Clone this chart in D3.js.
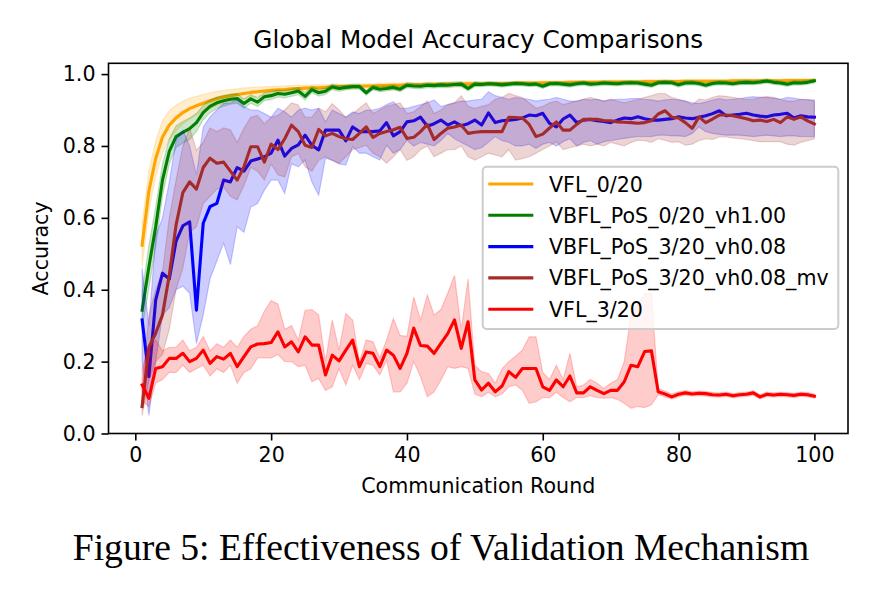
<!DOCTYPE html>
<html><head><meta charset="utf-8">
<script src="https://cdnjs.cloudflare.com/ajax/libs/d3/7.8.5/d3.min.js"></script>
<style>body{margin:0;background:#fff}svg{display:block}</style>
</head><body><svg id="c" width="888" height="592"></svg>
<script>
const rounds = d3.range(1, 101);
const xTicks = [0, 20, 40, 60, 80, 100];
const yTicks = [0.0, 0.2, 0.4, 0.6, 0.8, 1.0];
const seriesNames = ["VFL_0/20", "VBFL_PoS_0/20_vh1.00", "VBFL_PoS_3/20_vh0.08", "VBFL_PoS_3/20_vh0.08_mv", "VFL_3/20"];
const seriesColors = ["#ffa500", "#008000", "#0000ff", "#a52a2a", "#ff0000"];

const vfl0 = [.524,.675,.765,.825,.858,.878,.893,.904,.912,.919,
 .926,.932,.936,.940,.943,.946,.949,.951,.953,.955,
 .956,.957,.959,.960,.961,.962,.962,.963,.964,.965,
 .965,.966,.966,.967,.967,.968,.968,.969,.969,.970,
 .970,.970,.971,.971,.971,.972,.972,.972,.973,.973,
 .973,.974,.974,.974,.974,.975,.975,.975,.975,.976,
 .976,.976,.976,.977,.977,.977,.977,.977,.978,.978,
 .978,.978,.978,.978,.979,.979,.979,.979,.979,.979,
 .980,.980,.980,.980,.980,.980,.980,.981,.981,.981,
 .981,.981,.981,.981,.981,.982,.982,.982,.982,.982];
const vfl0Spread = [.06,.055,.05,.045,.04,.036,.032,.029,.026,.024,
 .022,.02,.018,.017,.016,.015,.014,.013,.012,.011,
 .010,.010,.009,.009,.008,.008,.008,.007,.007,.007,
 .006,.006,.006,.006,.006,.006,.006,.006,.006,.006,
 .006,.006,.006,.006,.006,.006,.006,.006,.006,.006,
 .005,.005,.005,.005,.005,.005,.005,.005,.005,.005,
 .005,.005,.005,.005,.005,.005,.005,.005,.005,.005,
 .005,.005,.005,.005,.005,.005,.005,.005,.005,.005,
 .005,.005,.005,.005,.005,.005,.005,.005,.005,.005,
 .005,.005,.005,.005,.005,.005,.005,.005,.005,.005];

const vbfl0 = [.343,.464,.575,.705,.785,.826,.838,.848,.865,.893,
 .910,.920,.926,.930,.932,.918,.931,.922,.937,.940,
 .946,.944,.948,.953,.938,.957,.948,.952,.965,.960,
 .963,.965,.965,.948,.963,.958,.960,.963,.958,.969,
 .967,.966,.969,.968,.970,.969,.971,.972,.960,.972,
 .971,.973,.972,.970,.972,.974,.973,.971,.972,.966,
 .973,.974,.972,.970,.973,.975,.972,.973,.975,.974,
 .973,.975,.976,.975,.972,.969,.976,.977,.976,.970,
 .975,.976,.974,.969,.974,.976,.975,.973,.976,.977,
 .976,.978,.981,.977,.975,.972,.976,.975,.977,.981];
const vbfl0Spread = [.05,.06,.055,.045,.035,.03,.03,.03,.025,.02,
 .018,.016,.015,.014,.013,.013,.012,.012,.011,.011,
 .01,.01,.01,.01,.01,.009,.009,.009,.008,.008,
 .007,.007,.007,.007,.007,.007,.007,.007,.007,.007,
 .007,.007,.007,.007,.007,.007,.007,.007,.007,.007,
 .006,.006,.006,.006,.006,.006,.006,.006,.006,.006,
 .006,.006,.006,.006,.006,.006,.006,.006,.006,.006,
 .006,.006,.006,.006,.006,.006,.006,.006,.006,.006,
 .006,.006,.006,.006,.006,.006,.006,.006,.006,.006,
 .006,.006,.006,.006,.006,.006,.006,.006,.006,.006];

const vbfl3 = [.316,.158,.371,.446,.430,.535,.578,.589,.343,.585,
 .631,.640,.705,.700,.740,.730,.758,.764,.770,.780,
 .816,.772,.793,.803,.830,.802,.789,.844,.844,.844,
 .814,.853,.840,.840,.840,.842,.865,.828,.840,.867,
 .870,.880,.855,.862,.872,.858,.867,.856,.862,.872,
 .858,.892,.865,.870,.872,.874,.878,.886,.884,.891,
 .863,.853,.875,.886,.865,.872,.874,.870,.868,.865,
 .872,.878,.876,.881,.876,.872,.872,.874,.876,.881,
 .878,.876,.880,.884,.890,.898,.884,.886,.888,.891,
 .886,.883,.881,.886,.888,.891,.878,.884,.881,.880];
const vbfl3Lo = [.200,.050,.200,.330,.350,.400,.410,.390,.250,.330,
 .430,.480,.530,.470,.575,.560,.630,.640,.677,.705,
 .705,.668,.750,.742,.761,.700,.663,.766,.760,.750,
 .747,.798,.780,.780,.770,.761,.802,.780,.790,.816,
 .800,.810,.805,.800,.815,.835,.820,.810,.800,.790,
 .795,.810,.826,.815,.810,.800,.800,.805,.793,.805,
 .810,.800,.812,.820,.800,.810,.815,.805,.812,.815,
 .818,.821,.824,.826,.826,.826,.830,.830,.828,.828,
 .826,.835,.853,.840,.835,.832,.830,.830,.830,.828,
 .826,.828,.830,.828,.826,.828,.828,.826,.826,.826];
const vbfl3Hi = [.460,.300,.550,.600,.700,.816,.844,.800,.720,.853,
 .881,.900,.918,.920,.928,.910,.900,.900,.890,.880,
 .905,.895,.880,.900,.905,.900,.905,.867,.900,.890,
 .880,.895,.890,.900,.900,.905,.915,.923,.905,.905,
 .910,.915,.920,.928,.910,.915,.920,.925,.925,.928,
 .930,.951,.940,.935,.930,.935,.932,.930,.925,.928,
 .930,.935,.930,.925,.925,.930,.928,.930,.925,.928,
 .930,.930,.932,.932,.930,.928,.925,.928,.930,.928,
 .925,.920,.918,.922,.928,.932,.928,.930,.932,.935,
 .937,.935,.935,.933,.930,.935,.933,.930,.928,.928];

const vbflMv = [.075,.240,.279,.330,.440,.580,.670,.700,.680,.740,
 .766,.752,.755,.730,.705,.742,.798,.798,.755,.805,
 .790,.820,.858,.840,.802,.796,.846,.828,.835,.826,
 .820,.818,.835,.853,.824,.835,.840,.845,.852,.821,
 .824,.840,.860,.818,.835,.849,.853,.858,.835,.838,
 .840,.840,.840,.840,.880,.879,.878,.860,.826,.833,
 .850,.867,.844,.844,.860,.874,.874,.874,.871,.870,
 .867,.866,.865,.863,.865,.870,.889,.898,.880,.878,
 .865,.849,.881,.865,.875,.886,.886,.884,.880,.876,
 .870,.872,.868,.874,.865,.881,.874,.881,.870,.861];
const vbflMvLo = [.050,.150,.200,.220,.290,.400,.460,.560,.575,.640,
 .660,.680,.686,.660,.650,.690,.740,.730,.705,.750,
 .720,.714,.770,.779,.742,.730,.760,.770,.760,.752,
 .770,.790,.795,.802,.780,.770,.752,.770,.790,.760,
 .770,.790,.800,.770,.780,.790,.790,.800,.770,.761,
 .770,.780,.775,.770,.790,.761,.765,.770,.780,.790,
 .800,.812,.790,.795,.800,.805,.800,.805,.800,.810,
 .805,.800,.810,.816,.815,.810,.820,.816,.810,.812,
 .802,.805,.815,.820,.818,.825,.825,.822,.820,.818,
 .815,.812,.812,.812,.812,.805,.802,.810,.815,.820];
const vbflMvHi = [.120,.330,.400,.450,.600,.705,.800,.850,.788,.810,
 .850,.840,.850,.845,.810,.850,.880,.885,.862,.880,
 .885,.900,.920,.914,.880,.880,.905,.895,.918,.900,
 .880,.890,.905,.920,.890,.900,.910,.915,.920,.890,
 .895,.910,.925,.890,.900,.915,.920,.940,.910,.905,
 .910,.915,.930,.935,.946,.940,.935,.920,.905,.910,
 .920,.925,.915,.920,.925,.930,.935,.930,.925,.930,
 .925,.920,.925,.930,.935,.940,.946,.946,.935,.930,
 .925,.915,.930,.928,.935,.940,.938,.935,.932,.930,
 .930,.935,.937,.935,.930,.925,.925,.930,.930,.925];

const vfl3 = [.135,.098,.181,.186,.209,.209,.223,.200,.209,.232,
 .195,.214,.207,.223,.186,.214,.241,.249,.250,.253,
 .283,.241,.255,.227,.269,.246,.246,.163,.218,.202,
 .232,.260,.186,.227,.223,.186,.232,.218,.181,.223,
 .293,.245,.243,.223,.251,.278,.316,.237,.311,.149,
 .121,.140,.116,.132,.172,.156,.181,.181,.181,.130,
 .120,.149,.130,.160,.113,.113,.130,.120,.111,.120,
 .120,.144,.190,.186,.228,.230,.116,.110,.102,.109,
 .113,.110,.112,.111,.108,.107,.109,.105,.108,.109,
 .113,.102,.109,.107,.109,.108,.106,.109,.108,.104];
const vfl3Lo = [.090,.075,.140,.150,.170,.170,.190,.170,.180,.190,
 .160,.180,.170,.190,.140,.170,.180,.210,.210,.210,
 .220,.200,.200,.186,.190,.144,.153,.120,.130,.181,
 .135,.190,.150,.195,.190,.163,.204,.116,.116,.140,
 .200,.158,.102,.116,.148,.186,.181,.186,.181,.110,
 .102,.115,.102,.110,.130,.135,.120,.084,.088,.100,
 .100,.115,.100,.088,.100,.100,.105,.100,.098,.100,
 .095,.084,.070,.075,.072,.080,.108,.102,.096,.102,
 .107,.104,.106,.104,.102,.101,.103,.099,.102,.103,
 .107,.096,.103,.101,.103,.102,.100,.103,.102,.098];
const vfl3Hi = [.180,.240,.260,.230,.240,.240,.260,.230,.240,.270,
 .230,.250,.240,.260,.240,.270,.290,.300,.340,.370,
 .360,.290,.300,.260,.343,.345,.330,.200,.316,.232,
 .334,.316,.200,.260,.255,.210,.260,.320,.273,.270,
 .380,.316,.385,.330,.345,.390,.440,.290,.430,.190,
 .172,.167,.140,.180,.200,.215,.232,.269,.269,.170,
 .150,.190,.150,.223,.130,.135,.150,.140,.125,.140,
 .150,.200,.330,.360,.390,.390,.125,.118,.110,.116,
 .119,.116,.118,.117,.114,.113,.115,.111,.114,.115,
 .119,.108,.115,.113,.115,.114,.112,.115,.114,.110];

const series = [
  {mean: vfl0, lo: vfl0.map((v,i)=>v - vfl0Spread[i]), hi: vfl0.map((v,i)=>v + vfl0Spread[i])},
  {mean: vbfl0, lo: vbfl0.map((v,i)=>v - vbfl0Spread[i]), hi: vbfl0.map((v,i)=>v + vbfl0Spread[i])},
  {mean: vbfl3, lo: vbfl3Lo, hi: vbfl3Hi},
  {mean: vbflMv, lo: vbflMvLo, hi: vbflMvHi},
  {mean: vfl3, lo: vfl3Lo, hi: vfl3Hi}
];

const L = 108.5, R = 848, T = 63.3, B = 433.5;
const svg = d3.select("#c");
svg.append("rect").attr("width", 888).attr("height", 592).attr("fill", "#fff");
const x = d3.scaleLinear().domain([-3.95, 104.95]).range([L, R]);
const y = d3.scaleLinear().domain([0, 1.03]).range([B, T]);
const font = "DejaVu Sans, sans-serif";

const plot = svg.append("g");
series.forEach((s, k) => {
  const area = d3.area().x((d,i)=>x(rounds[i])).y0((d,i)=>y(s.lo[i])).y1((d,i)=>y(s.hi[i]));
  plot.append("path").attr("d", area(s.mean)).attr("fill", seriesColors[k]).attr("fill-opacity", 0.2)
    .attr("stroke", seriesColors[k]).attr("stroke-opacity", 0.2).attr("stroke-width", 1.2);
  const line = d3.line().x((d,i)=>x(rounds[i])).y(d=>y(d));
  plot.append("path").attr("d", line(s.mean)).attr("fill", "none").attr("stroke", seriesColors[k])
    .attr("stroke-width", 3.1).attr("stroke-linejoin", "round").attr("stroke-linecap", "square");
});

// axes
const xAxis = d3.axisBottom(x).tickValues(xTicks).tickFormat(d3.format("d")).tickSize(7).tickPadding(6);
const gx = svg.append("g").attr("transform", `translate(0,${B})`).call(xAxis);
const yAxis = d3.axisLeft(y).tickValues(yTicks).tickFormat(d3.format(".1f")).tickSize(7).tickPadding(6);
const gy = svg.append("g").attr("transform", `translate(${L},0)`).call(yAxis);
[gx, gy].forEach(g => {
  g.select(".domain").remove();
  g.selectAll(".tick line").attr("stroke", "#000").attr("stroke-width", 1.6);
  g.selectAll(".tick text").attr("font-family", font).attr("font-size", 20.6).attr("fill", "#000");
});
gx.selectAll(".tick text").attr("dy", "0.76em");
svg.append("rect").attr("x", L).attr("y", T).attr("width", R - L).attr("height", B - T)
  .attr("fill", "none").attr("stroke", "#000").attr("stroke-width", 1.6);

svg.append("text").attr("x", (L+R)/2).attr("y", 48).attr("text-anchor", "middle")
  .attr("font-family", font).attr("font-size", 24.7).text("Global Model Accuracy Comparisons");
svg.append("text").attr("x", (L+R)/2).attr("y", 493).attr("text-anchor", "middle")
  .attr("font-family", font).attr("font-size", 20.6).text("Communication Round");
svg.append("text").attr("transform", `translate(48,${(T+B)/2}) rotate(-90)`).attr("text-anchor", "middle")
  .attr("font-family", font).attr("font-size", 20.6).text("Accuracy");

// legend
const lg = svg.append("g");
lg.append("rect").attr("x", 482.7).attr("y", 166.7).attr("width", 355.6).attr("height", 162.3).attr("rx", 4)
  .attr("fill", "#fff").attr("fill-opacity", 0.8).attr("stroke", "#cccccc").attr("stroke-width", 2);
seriesNames.forEach((n, k) => {
  const yy = 184 + k * 31.3;
  lg.append("line").attr("x1", 488.3).attr("x2", 533.3).attr("y1", yy).attr("y2", yy)
    .attr("stroke", seriesColors[k]).attr("stroke-width", 3.1);
  lg.append("text").attr("x", 549).attr("y", yy + 7.5).attr("font-family", font).attr("font-size", 20.6).text(n);
});

svg.append("text").attr("x", 441).attr("y", 560).attr("text-anchor", "middle")
  .attr("font-family", "Liberation Serif, Times New Roman, serif").attr("font-size", 37.6)
  .text("Figure 5: Effectiveness of Validation Mechanism");
</script></body></html>
